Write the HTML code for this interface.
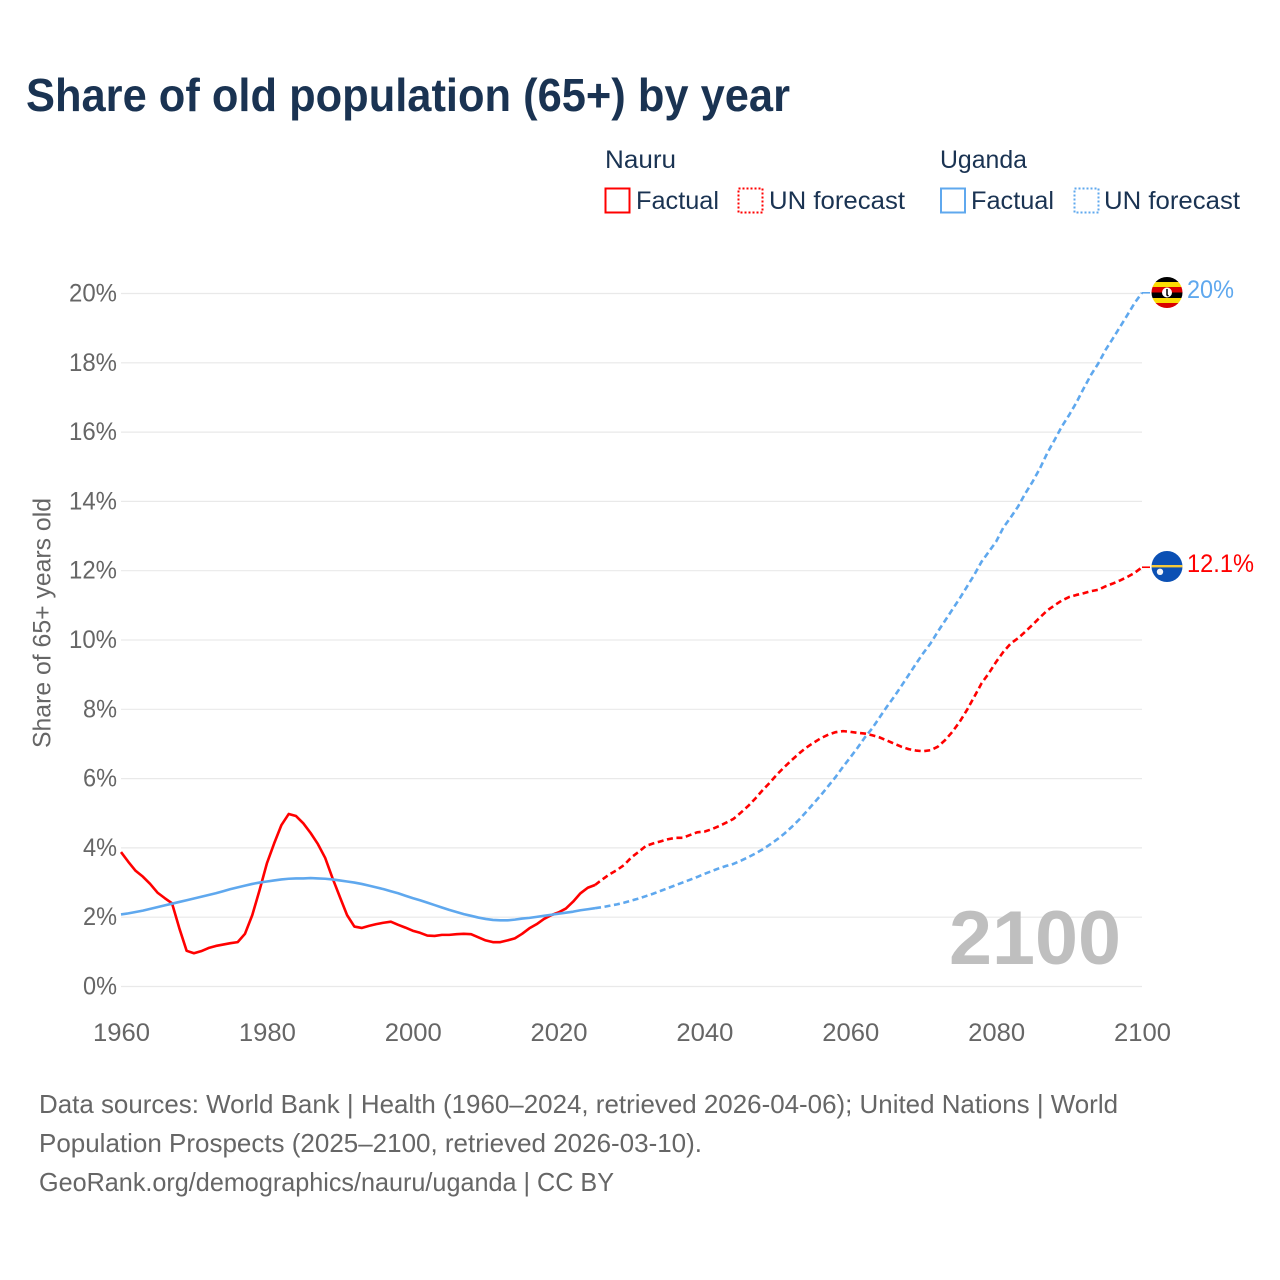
<!DOCTYPE html>
<html lang="en">
<head>
<meta charset="utf-8">
<title>Share of old population (65+) by year</title>
<style>
html,body{margin:0;padding:0;background:#fff;width:1280px;height:1280px;overflow:hidden}
svg{display:block}
text{font-family:"Liberation Sans",sans-serif}
</style>
</head>
<body>
<svg id="chart" xmlns="http://www.w3.org/2000/svg" width="1280" height="1280" viewBox="0 0 1280 1280">
  <defs>
    <clipPath id="ug-clip"><circle cx="1167" cy="292.5" r="15.5"/></clipPath>
    <clipPath id="nr-clip"><circle cx="1167" cy="566.5" r="15.5"/></clipPath>
  </defs>
  <rect width="1280" height="1280" fill="#fff"/>
  <text x="26" y="111" font-size="46" font-weight="700" fill="#1a3352" textLength="764" lengthAdjust="spacingAndGlyphs">Share of old population (65+) by year</text>

  <g font-size="25" fill="#1a3352">
    <text x="605" y="168" textLength="71" lengthAdjust="spacingAndGlyphs">Nauru</text>
    <rect x="605.5" y="188.5" width="24" height="24" fill="none" stroke="#ff0000" stroke-width="2"/>
    <text x="636" y="209" textLength="83" lengthAdjust="spacingAndGlyphs">Factual</text>
    <rect x="738.5" y="188.5" width="24" height="24" fill="none" stroke="#ff0000" stroke-width="2" stroke-dasharray="2 2"/>
    <text x="769" y="209" textLength="136" lengthAdjust="spacingAndGlyphs">UN forecast</text>
    <text x="940" y="168" textLength="87" lengthAdjust="spacingAndGlyphs">Uganda</text>
    <rect x="941" y="188.5" width="24" height="24" fill="none" stroke="#5fa8ee" stroke-width="2"/>
    <text x="971" y="209" textLength="83" lengthAdjust="spacingAndGlyphs">Factual</text>
    <rect x="1074.5" y="188.5" width="24" height="24" fill="none" stroke="#5fa8ee" stroke-width="2" stroke-dasharray="2 2"/>
    <text x="1104" y="209" textLength="136" lengthAdjust="spacingAndGlyphs">UN forecast</text>
  </g>

  <g id="grid"></g>
  <g id="yticks" font-size="25" fill="#666"></g>
  <g id="xticks" font-size="25" fill="#666"></g>
  <text transform="translate(50.5,748) rotate(-90)" font-size="25" fill="#666" textLength="250" lengthAdjust="spacingAndGlyphs">Share of 65+ years old</text>

  <text x="949" y="964" font-size="76" font-weight="700" fill="#bfbfbf" textLength="172" lengthAdjust="spacingAndGlyphs">2100</text>

  <g id="series"></g>

  <g clip-path="url(#ug-clip)">
    <rect x="1150" y="276" width="34" height="6" fill="#000"/>
    <rect x="1150" y="282" width="34" height="5" fill="#fcdc04"/>
    <rect x="1150" y="287" width="34" height="5.5" fill="#d90000"/>
    <rect x="1150" y="292.5" width="34" height="5.5" fill="#000"/>
    <rect x="1150" y="298" width="34" height="5" fill="#fcdc04"/>
    <rect x="1150" y="303" width="34" height="6" fill="#d90000"/>
    <circle cx="1167" cy="292.5" r="5" fill="#fff"/>
    <path d="M1167 289v6l1.5 1" stroke="#000" stroke-width="1.5" fill="none"/>
  </g>
  <g clip-path="url(#nr-clip)">
    <rect x="1150" y="550" width="34" height="33" fill="#0b50b4"/>
    <rect x="1150" y="565" width="34" height="2.4" fill="#f5c93a"/>
    <circle cx="1160" cy="571.8" r="3.2" fill="#f2f4f8"/>
  </g>

  <text id="label-uganda" x="1187" y="298" font-size="25" fill="#5fa8ee" textLength="47" lengthAdjust="spacingAndGlyphs"></text>
  <text id="label-nauru" x="1187" y="572" font-size="25" fill="#ff0000" textLength="67" lengthAdjust="spacingAndGlyphs"></text>

  <g font-size="26" fill="#666">
    <text x="39" y="1113" textLength="1079" lengthAdjust="spacingAndGlyphs">Data sources: World Bank | Health (1960–2024, retrieved 2026-04-06); United Nations | World</text>
    <text x="39" y="1152" textLength="663" lengthAdjust="spacingAndGlyphs">Population Prospects (2025–2100, retrieved 2026-03-10).</text>
    <text x="39" y="1191" textLength="575" lengthAdjust="spacingAndGlyphs">GeoRank.org/demographics/nauru/uganda | CC BY</text>
  </g>
</svg>
<script>
const firstYear = 1960;
const lastFactualYear = 2025;
const xTickYears = [1960, 1980, 2000, 2020, 2040, 2060, 2080, 2100];
const yTickValues = [0, 2, 4, 6, 8, 10, 12, 14, 16, 18, 20];
const endLabelNauru = "12.1%";
const endLabelUganda = "20%";

// One value per year, 1960–2100 (share of population aged 65+, %)
const nauruValues = [
  3.88,3.60,3.34,3.17,2.96,2.71,2.55,2.40,1.68,1.03,
  0.96,1.02,1.11,1.17,1.21,1.25,1.28,1.52,2.06,2.78,
  3.55,4.13,4.66,4.98,4.92,4.71,4.43,4.11,3.71,3.13,
  2.59,2.06,1.73,1.69,1.75,1.80,1.84,1.87,1.78,1.70,
  1.61,1.55,1.47,1.46,1.49,1.49,1.51,1.52,1.51,1.42,
  1.33,1.28,1.28,1.33,1.39,1.52,1.68,1.80,1.95,2.06,
  2.14,2.25,2.45,2.69,2.85,2.93,3.09,3.24,3.36,3.51,
  3.73,3.89,4.06,4.13,4.19,4.25,4.29,4.29,4.37,4.45,
  4.47,4.54,4.63,4.73,4.84,5.02,5.21,5.43,5.67,5.89,
  6.13,6.34,6.54,6.73,6.90,7.04,7.17,7.27,7.34,7.37,
  7.35,7.32,7.30,7.25,7.19,7.10,7.01,6.92,6.85,6.81,
  6.79,6.82,6.92,7.11,7.35,7.64,7.98,8.36,8.75,9.04,
  9.37,9.66,9.90,10.05,10.24,10.44,10.65,10.85,11.00,11.14,
  11.24,11.30,11.35,11.41,11.45,11.55,11.63,11.72,11.82,11.94,
  12.10
];
const ugandaValues = [
  2.08,2.11,2.15,2.19,2.24,2.29,2.34,2.39,2.44,2.49,
  2.54,2.59,2.64,2.69,2.75,2.81,2.86,2.91,2.96,3.00,
  3.03,3.06,3.09,3.11,3.12,3.12,3.13,3.12,3.11,3.09,
  3.06,3.03,3.00,2.96,2.91,2.86,2.81,2.75,2.69,2.62,
  2.55,2.49,2.42,2.35,2.28,2.21,2.15,2.09,2.04,1.99,
  1.95,1.92,1.91,1.91,1.93,1.96,1.98,2.01,2.04,2.07,
  2.10,2.13,2.16,2.20,2.23,2.26,2.29,2.33,2.37,2.42,
  2.48,2.54,2.61,2.68,2.76,2.84,2.92,3.00,3.08,3.16,
  3.25,3.33,3.41,3.48,3.54,3.63,3.73,3.84,3.96,4.10,
  4.25,4.42,4.61,4.82,5.05,5.29,5.53,5.79,6.05,6.34,
  6.61,6.89,7.19,7.45,7.76,8.07,8.36,8.67,8.99,9.31,
  9.62,9.90,10.24,10.56,10.88,11.20,11.54,11.88,12.26,12.55,
  12.84,13.25,13.54,13.85,14.23,14.57,14.95,15.39,15.77,16.16,
  16.49,16.85,17.26,17.65,17.98,18.37,18.70,19.04,19.38,19.73,
  20.02
];

const NS = 'http://www.w3.org/2000/svg';
const xScale = function (year) { return 121 + (year - 1960) * (1142 - 121) / 140; };
const yScale = function (v) { return 986.5 - v * (986.5 - 293.5) / 20; };

function make(tag, parent, attrs) {
  const el = document.createElementNS(NS, tag);
  for (const k in attrs) el.setAttribute(k, attrs[k]);
  parent.appendChild(el);
  return el;
}

const grid = document.getElementById('grid');
const yticks = document.getElementById('yticks');
const xticks = document.getElementById('xticks');
const series = document.getElementById('series');

yTickValues.forEach(function (v) {
  const line = make('line', grid, { x1: 121, x2: 1142, y1: yScale(v), y2: yScale(v), stroke: '#e9e9e9', 'stroke-width': 1.2 });
  
  
  const label = v + '%';
  const t = make('text', yticks, { x: 117, y: yScale(v) + 8, 'text-anchor': 'end', textLength: label.length === 3 ? 48 : 34, lengthAdjust: 'spacingAndGlyphs' });
  
  
  t.textContent = label;
});

xTickYears.forEach(function (y) {
  const t = make('text', xticks, { x: xScale(y) + 0.5, y: 1041, 'text-anchor': 'middle', textLength: 57, lengthAdjust: 'spacingAndGlyphs' });
  
  
  t.textContent = y;
});

function pathFrom(values, fromYear, toYear) {
  const pts = [];
  for (let y = fromYear; y <= toYear; y++) {
    pts.push(xScale(y).toFixed(2) + ',' + yScale(values[y - firstYear]).toFixed(2));
  }
  return 'M' + pts.join('L');
}

function drawForecast(values, color) {
  const lastYear = firstYear + values.length - 1;
  return make('path', series, { d: pathFrom(values, lastFactualYear, lastYear), fill: 'none', stroke: color, 'stroke-width': 2.6, 'stroke-dasharray': '6 3.6', 'stroke-linejoin': 'round' });
}
function drawFactual(values, color) {
  return make('path', series, { d: pathFrom(values, firstYear, lastFactualYear), fill: 'none', stroke: color, 'stroke-width': 2.6, 'stroke-linejoin': 'round' });
}
function drawLeader(values, color) {
  const yy = yScale(values[values.length - 1]);
  return make('line', series, { x1: xScale(firstYear + values.length - 1), x2: 1150, y1: yy, y2: yy, stroke: color, 'stroke-width': 1.6 });
}

const BLUE = '#5fa8ee';
const RED = '#ff0000';

const ugFore = drawForecast(ugandaValues, BLUE);


const ugFact = drawFactual(ugandaValues, BLUE);


const ugLead = drawLeader(ugandaValues, BLUE);



const nrFore = drawForecast(nauruValues, RED);


const nrFact = drawFactual(nauruValues, RED);


const nrLead = drawLeader(nauruValues, RED);



// Uganda's factual line sits on top of Nauru's in the crossing near 1967–2020
series.appendChild(ugFact);

document.getElementById('label-uganda').textContent = endLabelUganda;
document.getElementById('label-nauru').textContent = endLabelNauru;
</script>
</body>
</html>
